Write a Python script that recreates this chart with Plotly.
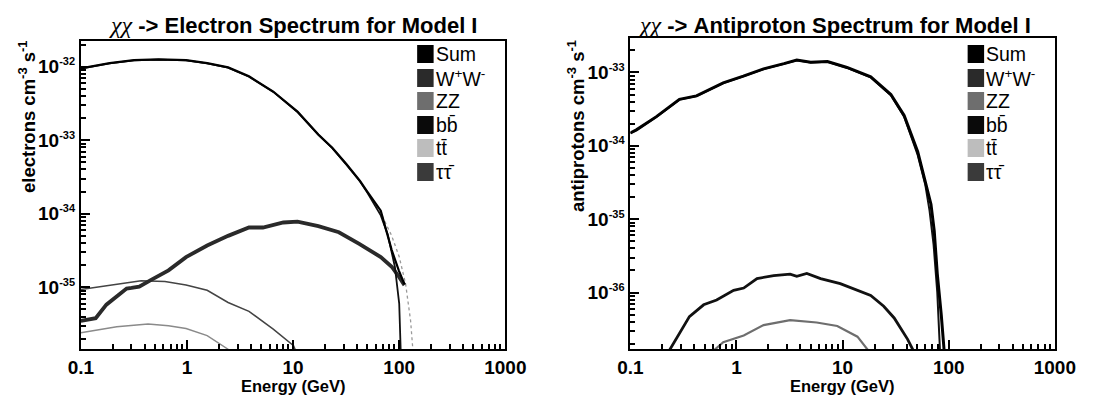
import plotly.graph_objects as go

W, H = 1103, 396

# ---------------- Left panel: electron spectrum ----------------
e_sum_E = [0.1, 0.187, 0.317, 0.54, 0.98, 1.55, 2.44, 3.84, 6.5, 11, 17.3, 23.4, 31.6, 42.7, 50, 57.6, 67, 85, 99, 112]
e_sum_V = [9.5e-33, 1.12e-32, 1.23e-32, 1.26e-32, 1.23e-32, 1.12e-32, 9.8e-33, 7.4e-33, 4.6e-33, 2.45e-33,
           1.2e-33, 7.9e-34, 4.8e-34, 2.8e-34, 2.0e-34, 1.5e-34, 1.1e-34, 3.2e-35, 1.7e-35, 1.1e-35]

e_bb_E = [0.1, 0.187, 0.317, 0.54, 0.98, 1.55, 2.44, 3.84, 6.5, 11, 17.3, 23.4, 31.6, 42.7, 50, 57.6, 67, 78, 91, 100, 104]
e_bb_V = [9.4e-33, 1.11e-32, 1.22e-32, 1.25e-32, 1.22e-32, 1.11e-32, 9.7e-33, 7.3e-33, 4.55e-33, 2.42e-33,
          1.18e-33, 7.8e-34, 4.7e-34, 2.75e-34, 1.95e-34, 1.4e-34, 9.5e-35, 5.2e-35, 1.9e-35, 6e-36, 1.0e-36]

e_tt_E = [0.1, 0.187, 0.317, 0.54, 0.98, 1.55, 2.44, 3.84, 6.5, 11, 17.3, 23.4, 31.6, 42.7, 57.6, 70, 85, 100, 115, 128, 137]
e_tt_V = [9.45e-33, 1.11e-32, 1.22e-32, 1.25e-32, 1.22e-32, 1.11e-32, 9.7e-33, 7.35e-33, 4.57e-33, 2.43e-33,
          1.19e-33, 7.85e-34, 4.75e-34, 2.77e-34, 1.45e-34, 9.0e-35, 5.0e-35, 2.6e-35, 1.1e-35, 3.5e-36, 1.0e-36]

e_ww_E = [0.1, 0.138, 0.174, 0.218, 0.27, 0.3, 0.355, 0.46, 0.67, 0.98, 1.55, 2.44, 3.84, 5.2, 8.1, 11, 17.3, 27, 42, 67, 85, 99, 112]
e_ww_V = [3.5e-36, 3.8e-36, 5.8e-36, 7.4e-36, 9.6e-36, 9.8e-36, 1.02e-35, 1.26e-35, 1.7e-35, 2.57e-35, 3.7e-35, 5.0e-35,
          6.5e-35, 6.5e-35, 7.6e-35, 7.8e-35, 6.8e-35, 5.6e-35, 3.9e-35, 2.57e-35, 1.9e-35, 1.4e-35, 1.07e-35]

e_tau_E = [0.1, 0.218, 0.37, 0.62, 0.98, 1.55, 2.44, 3.84, 6.5, 10.1, 11]
e_tau_V = [9.3e-36, 1.1e-35, 1.23e-35, 1.2e-35, 1.07e-35, 9.1e-36, 6.2e-36, 4.7e-36, 2.7e-36, 1.6e-36, 1.2e-36]

e_zz_E = [0.1, 0.218, 0.43, 0.67, 0.98, 1.55, 2.6, 2.8]
e_zz_V = [2.4e-36, 2.9e-36, 3.16e-36, 3.0e-36, 2.75e-36, 2.2e-36, 1.35e-36, 1.1e-36]

# ---------------- Right panel: antiproton spectrum ----------------
p_sum_E = [0.1, 0.114, 0.176, 0.29, 0.42, 0.75, 1.16, 1.8, 2.8, 3.7, 5.0, 7.2, 11, 18.4, 28.5, 38, 51, 63, 68, 73, 78, 85, 92]
p_sum_V = [1.5e-34, 1.65e-34, 2.5e-34, 4.3e-34, 4.8e-34, 7.2e-34, 8.9e-34, 1.12e-33, 1.32e-33, 1.48e-33, 1.38e-33,
           1.41e-33, 1.17e-33, 8.7e-34, 5.0e-34, 2.6e-34, 8.3e-35, 2.4e-35, 1.6e-35, 6.9e-36, 1.8e-36, 5e-37, 1.2e-37]

p_bb_E = [0.1, 0.114, 0.176, 0.29, 0.42, 0.75, 1.16, 1.8, 2.8, 3.7, 5.0, 7.2, 11, 18.4, 28.5, 38, 51, 60, 66, 72, 78, 84]
p_bb_V = [1.49e-34, 1.64e-34, 2.48e-34, 4.27e-34, 4.77e-34, 7.15e-34, 8.85e-34, 1.11e-33, 1.31e-33, 1.47e-33, 1.37e-33,
          1.4e-33, 1.16e-33, 8.6e-34, 4.9e-34, 2.5e-34, 7.5e-35, 3.0e-35, 1.3e-35, 4.5e-36, 1.0e-36, 1.0e-37]

p_ww_E = [0.21, 0.27, 0.36, 0.49, 0.65, 0.94, 1.17, 1.56, 2.24, 3.2, 3.7, 4.6, 6.2, 9.5, 13.8, 18.4, 24.4, 30.6, 41, 53]
p_ww_V = [1.26e-37, 2.3e-37, 4.7e-37, 6.8e-37, 7.9e-37, 1.07e-36, 1.15e-36, 1.55e-36, 1.7e-36, 1.78e-36, 1.66e-36,
          1.82e-36, 1.55e-36, 1.32e-36, 1.07e-36, 9.1e-37, 6.5e-37, 4.5e-37, 2.3e-37, 1.1e-37]

p_zz_E = [0.5, 0.75, 1.17, 1.8, 3.2, 5.7, 8.9, 13.8, 20]
p_zz_V = [1.26e-37, 2.1e-37, 2.6e-37, 3.6e-37, 4.2e-37, 3.9e-37, 3.5e-37, 2.5e-37, 1.26e-37]

# ---------------- Legend / labels ----------------
legend_names = ["Sum", "W<sup>+</sup>W<sup>-</sup>", "ZZ", "bb\u0304", "tt\u0304", "\u03c4\u03c4\u0304"]
legend_colors = ["#000000", "#2a2a2a", "#6e6e6e", "#0a0a0a", "#bdbdbd", "#3a3a3a"]

x_tickvals = [0.1, 1, 10, 100, 1000]
x_ticktext = ["0.1", "1", "10", "100", "1000"]
yL_tickvals = [1e-32, 1e-33, 1e-34, 1e-35]
yL_exps = ["-32", "-33", "-34", "-35"]
yR_tickvals = [1e-33, 1e-34, 1e-35, 1e-36]
yR_exps = ["-33", "-34", "-35", "-36"]

FONT = "Liberation Sans"

def sup_label(e):
    return "10<sup><span style='font-size:11px'>" + e + "</span></sup>"

def px(x):
    return x / W

def py(y):
    return 1 - y / H

fig = go.Figure()

def line(xs, ys, color, width, xa, ya, dash="solid"):
    fig.add_trace(go.Scatter(x=xs, y=ys, mode="lines", xaxis=xa, yaxis=ya,
                             line=dict(color=color, width=width, dash=dash),
                             showlegend=False, hoverinfo="skip"))

# left panel traces
line(e_tt_E, e_tt_V, "#9a9a9a", 1.3, "x", "y", "dot")
line(e_zz_E, e_zz_V, "#8a8a8a", 1.4, "x", "y")
line(e_tau_E, e_tau_V, "#444444", 1.5, "x", "y")
line(e_ww_E, e_ww_V, "#2a2a2a", 3.8, "x", "y")
line(e_bb_E, e_bb_V, "#111111", 1.8, "x", "y")
line(e_sum_E, e_sum_V, "#000000", 2.2, "x", "y")

# right panel traces
line(p_zz_E, p_zz_V, "#6e6e6e", 2.2, "x2", "y2")
line(p_ww_E, p_ww_V, "#111111", 2.8, "x2", "y2")
line(p_bb_E, p_bb_V, "#111111", 2.0, "x2", "y2")
line(p_sum_E, p_sum_V, "#000000", 3.0, "x2", "y2")

x_minor = [m * 10.0 ** k for k in range(-1, 3) for m in range(2, 10)]
y_minor = [m * 10.0 ** k for k in range(-38, -30) for m in range(2, 10)]

tickfont = dict(family=FONT, size=19, color="black", weight="bold")

def xaxis(domain, anchor):
    return dict(type="log", range=[-1, 3], domain=domain, anchor=anchor,
                showline=True, linewidth=2, linecolor="black", mirror=True,
                ticks="inside", ticklen=9, tickwidth=1.5, tickcolor="black",
                tickvals=x_tickvals, ticktext=x_ticktext, tickfont=tickfont,
                ticklabelstandoff=0,
                minor=dict(ticks="inside", ticklen=5, tickwidth=1.5, tickcolor="black",
                           tickvals=x_minor, showgrid=False),
                showgrid=False, zeroline=False)

def yaxis(domain, anchor, rng, tv, tt):
    return dict(type="log", range=rng, domain=domain, anchor=anchor,
                showline=True, linewidth=2, linecolor="black", mirror=True,
                ticks="inside", ticklen=9, tickwidth=1.5, tickcolor="black",
                tickvals=tv, ticktext=tt, tickfont=tickfont, ticklabelstandoff=0,
                minor=dict(ticks="inside", ticklen=5, tickwidth=1.5, tickcolor="black",
                           tickvals=y_minor, showgrid=False),
                showgrid=False, zeroline=False)

L = (70, 508, 41, 349)
R = (637, 1075, 38, 349)

fig.update_layout(
    width=W, height=H, margin=dict(l=0, r=0, t=0, b=0),
    paper_bgcolor="white", plot_bgcolor="white", showlegend=False,
    xaxis=xaxis([px(L[0]), px(L[1])], "y"),
    yaxis=yaxis([py(L[3]), py(L[2])], "x", [-35.84, -31.65], yL_tickvals, [sup_label(e) for e in yL_exps]),
    xaxis2=xaxis([px(R[0]), px(R[1])], "y2"),
    yaxis2=yaxis([py(R[3]), py(R[2])], "x2", [-36.77, -32.53], yR_tickvals, [sup_label(e) for e in yR_exps]),
)

ann = []
shapes = []
chi = "<span style='font-family:Liberation Serif;font-style:italic;font-weight:normal;font-size:24px'>\u03c7\u03c7</span>"
ann.append(dict(x=px(289), y=py(25), xref="paper", yref="paper", showarrow=False,
                xanchor="center", yanchor="middle",
                text=chi + " <b>-> Electron Spectrum for Model I</b>",
                font=dict(family=FONT, size=22, color="black")))
ann.append(dict(x=px(848), y=py(25), xref="paper", yref="paper", showarrow=False,
                xanchor="center", yanchor="middle",
                text=chi + " <b>-> Antiproton Spectrum for Model I</b>",
                font=dict(family=FONT, size=22, color="black")))
for cx in [(L[0] + L[1]) / 2, (R[0] + R[1]) / 2]:
    ann.append(dict(x=px(cx), y=py(396), xref="paper", yref="paper", showarrow=False,
                    xanchor="center", yanchor="bottom", text="<b>Energy (GeV)</b>", borderpad=0,
                    font=dict(family=FONT, size=16.5, color="black")))
ann.append(dict(x=px(15), y=py(38), xref="paper", yref="paper", showarrow=False,
                xanchor="center", yanchor="top", textangle=-90,
                text="<b>electrons cm<sup>-3</sup> s<sup>-1</sup></b>",
                font=dict(family=FONT, size=18.5, color="black")))
ann.append(dict(x=px(581), y=py(38), xref="paper", yref="paper", showarrow=False,
                xanchor="center", yanchor="top", textangle=-90,
                text="<b>antiprotons cm<sup>-3</sup> s<sup>-1</sup></b>",
                font=dict(family=FONT, size=18.5, color="black")))

rows = [54, 78, 101, 125, 148, 172]
for x0 in [417, 985]:
    for yc, name, col in zip(rows, legend_names, legend_colors):
        shapes.append(dict(type="rect", xref="paper", yref="paper",
                           x0=px(x0), x1=px(x0 + 17), y0=py(yc + 9), y1=py(yc - 9),
                           fillcolor=col, line=dict(width=0)))
        ann.append(dict(x=px(x0 + 17), y=py(yc), xref="paper", yref="paper", showarrow=False,
                        xanchor="left", yanchor="middle", text=name,
                        font=dict(family=FONT, size=19.5, color="black")))

fig.update_layout(annotations=ann, shapes=shapes)
fig.write_html("out.html")
